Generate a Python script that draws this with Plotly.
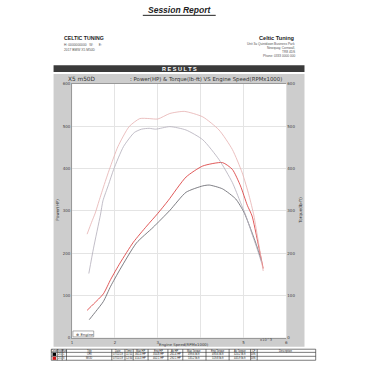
import plotly.graph_objects as go

# ---------------- data ----------------
rpm_tq_mod = [1.35, 1.45, 1.54, 1.63, 1.75, 1.87, 2.07, 2.33, 2.58, 2.8, 3.0, 3.28, 3.62, 4.05, 4.43, 4.74, 4.97, 5.13, 5.24, 5.35, 5.46]
tq_mod = [245, 272, 295, 324, 362, 398, 452, 499, 518, 518, 517, 530, 535, 522, 491, 445, 390, 336, 290, 225, 158]

rpm_tq_ori = [1.39, 1.5, 1.66, 1.72, 1.85, 1.97, 2.2, 2.45, 2.62, 2.8, 2.95, 3.28, 3.66, 4.05, 4.43, 4.74, 4.93, 5.05, 5.2, 5.32, 5.42]
tq_ori = [152, 212, 290, 324, 362, 398, 452, 485, 493, 495, 493, 499, 491, 468, 421, 367, 320, 290, 245, 210, 178]

rpm_hp_mod = [1.35, 1.5, 1.73, 1.9, 2.12, 2.43, 2.74, 3.0, 3.24, 3.66, 4.05, 4.51, 4.74, 4.93, 5.09, 5.2, 5.33, 5.46]
hp_mod = [65, 80, 104, 138, 177, 226, 264, 294, 324, 380, 406, 414, 398, 359, 313, 288, 228, 164]

rpm_hp_ori = [1.40, 1.55, 1.73, 1.9, 2.12, 2.5, 2.89, 3.28, 3.66, 4.05, 4.2, 4.51, 4.82, 5.01, 5.15, 5.3, 5.42]
hp_ori = [43, 62, 86, 122, 162, 224, 261, 301, 344, 359, 361, 352, 328, 297, 262, 220, 182]

x_ticks = [1, 2, 3, 4, 5, 6]
x_ticktext = ["1", "2", "3", "", "5", "6"]
y_ticks = [0, 100, 200, 300, 400, 500, 600]

table_header = ["Color", "Test", "Run", "Title", "Date", "Time", "Max HP", "Eng HP", "Av HP",
                "Max Torque", "Eng Torque", "Av Torque", "CF", "Description"]
table_row1 = ["", "2/1", "1", "ORI", "07/11/19", "11:51", "361.0 HP", "350.8 HP", "261.4 HP",
              "499.6 lb-ft", "493.6 lb-ft", "420.2 lb-ft", "DIN", ""]
table_row2 = ["", "2/1", "8", "MOD", "07/11/19", "12:34", "414.3 HP", "402.1 HP", "292.1 HP",
              "535.2 lb-ft", "519.8 lb-ft", "445.9 lb-ft", "DIN", ""]
row_colors = ["#000000", "#d01818"]

# ---------------- geometry helpers (pixels on a 366 page) ----------------
W = H = 366
def px(x): return x / W
def py(y): return 1 - y / H

L, R, T, B = 71.7, 287.7, 82.0, 339.5

fig = go.Figure()
fig.add_trace(go.Scatter(x=rpm_tq_mod, y=tq_mod, mode="lines", yaxis="y2",
                         line=dict(color="#e6b0b0", width=0.8, shape="spline", smoothing=0.6), name="Torque MOD"))
fig.add_trace(go.Scatter(x=rpm_tq_ori, y=tq_ori, mode="lines", yaxis="y2",
                         line=dict(color="#b3adba", width=0.8, shape="spline", smoothing=0.6), name="Torque ORI"))
fig.add_trace(go.Scatter(x=rpm_hp_ori, y=hp_ori, mode="lines",
                         line=dict(color="#5e5e66", width=0.8, shape="spline", smoothing=0.6), name="Power ORI"))
fig.add_trace(go.Scatter(x=rpm_hp_mod, y=hp_mod, mode="lines",
                         line=dict(color="#d83030", width=0.8, shape="spline", smoothing=0.6), name="Power MOD"))

tickfont = dict(size=4, color="#444", family="DejaVu Sans")
fig.update_layout(
    width=W, height=H, margin=dict(l=0, r=0, t=0, b=0),
    paper_bgcolor="white", plot_bgcolor="white", showlegend=False,
    xaxis=dict(domain=[px(L), px(R)], range=[1, 6], tickvals=x_ticks, ticktext=x_ticktext,
               showgrid=True, gridcolor="#e4e4e4", gridwidth=1, zeroline=False,
               tickfont=tickfont, ticks="", showline=True, linecolor="#999", linewidth=1, mirror=True),
    yaxis=dict(domain=[py(B), py(T)], range=[0, 600], tickvals=y_ticks,
               showgrid=True, gridcolor="#e4e4e4", gridwidth=1, zeroline=False,
               tickfont=tickfont, ticks="", showline=True, linecolor="#999", linewidth=1),
    yaxis2=dict(overlaying="y", side="right", range=[0, 600], tickvals=y_ticks,
                showgrid=False, zeroline=False, tickfont=tickfont, ticks=""),
)

shapes = []
shapes.append(dict(type="rect", xref="paper", yref="paper", x0=px(53), x1=px(306), y0=py(348.5), y1=py(72),
                   fillcolor="#cdcdcd", line=dict(width=0), layer="below"))
shapes.append(dict(type="rect", xref="paper", yref="paper", x0=px(L), x1=px(R), y0=py(B), y1=py(T),
                   fillcolor="white", line=dict(width=0), layer="below"))
shapes.append(dict(type="rect", xref="paper", yref="paper", x0=px(53), x1=px(306), y0=py(70), y1=py(63),
                   fillcolor="#3a3a3a", line=dict(width=0)))
shapes.append(dict(type="line", xref="paper", yref="paper", x0=px(143), x1=px(216.5), y0=py(12.5), y1=py(12.5),
                   line=dict(color="#222", width=1)))
shapes.append(dict(type="rect", xref="paper", yref="paper", x0=px(72.5), x1=px(93.5), y0=py(338.5), y1=py(332.5),
                   fillcolor="white", line=dict(color="#777", width=0.6)))

annotations = []
def txt(x, y, s, size, anchor="left", bold=False, italic=False, color="#222", family="Liberation Sans", angle=0):
    t = s
    if bold:
        t = "<b>" + t + "</b>"
    if italic:
        t = "<i>" + t + "</i>"
    annotations.append(dict(x=px(x), y=py(y), xref="paper", yref="paper", text=t, showarrow=False,
                            xanchor=anchor, yanchor="middle", textangle=angle,
                            font=dict(size=size, color=color, family=family)))

txt(180, 7.5, "Session Report", 8.5, anchor="center", bold=True, italic=True)
txt(62, 35.5, "CELTIC TUNING", 5.2, bold=True)
txt(62, 43, "H: 0000000000   W:      E:", 3.3, color="#555")
txt(62, 47.5, "2017 BMW X5 M50D", 3.3, color="#555")
txt(298, 35.5, "Celtic Tuning", 5.6, anchor="right", bold=True)
txt(298, 41.5, "Unit 3a Quintdown Business Park", 3.2, anchor="right", color="#555")
txt(298, 45.5, "Newquay, Cornwall,", 3.2, anchor="right", color="#555")
txt(298, 49.5, "TR8 4DS", 3.2, anchor="right", color="#555")
txt(298, 54, "Phone: 0333 0000 000", 3.2, anchor="right", color="#555")
txt(180, 66.6, "R E S U L T S", 5.5, anchor="center", bold=True, color="white")
txt(66, 77.5, "X5 m50D", 5.8, family="DejaVu Sans", color="#333")
txt(207, 77.5, ": Power(HP) &amp; Torque(lb-ft) VS Engine Speed(RPMx1000)", 5.4, anchor="center",
    family="DejaVu Sans", color="#333")
txt(185, 346.4, "Engine Speed(RPMx1000)", 3.8, anchor="center", family="DejaVu Sans", color="#333")
txt(267, 341.8, "x10^3", 3.6, anchor="center", family="DejaVu Sans", color="#444")
txt(57, 210, "Power(HP)", 4.2, anchor="center", family="DejaVu Sans", color="#333", angle=-90)
txt(302, 210, "Torque(lb-ft)", 4.2, anchor="center", family="DejaVu Sans", color="#333", angle=-90)
txt(74, 335.6, "⊕ Engine", 3.8, family="DejaVu Sans", color="#333")

col_edges = [50.7, 56.7, 61.7, 66, 111.7, 125, 133.3, 148.3, 168.3, 183.3, 206.7, 230, 251.7, 258.3, 317.3]
row_edges = [351, 354.2, 358.2, 362.2]
shapes.append(dict(type="rect", xref="paper", yref="paper", x0=px(col_edges[0]), x1=px(col_edges[-1]),
                   y0=py(row_edges[-1]), y1=py(row_edges[0]), line=dict(color="#222", width=0.6)))
for yv in row_edges[1:-1]:
    shapes.append(dict(type="line", xref="paper", yref="paper", x0=px(col_edges[0]), x1=px(col_edges[-1]),
                       y0=py(yv), y1=py(yv), line=dict(color="#222", width=0.6)))
for xv in col_edges[1:-1]:
    shapes.append(dict(type="line", xref="paper", yref="paper", x0=px(xv), x1=px(xv),
                       y0=py(row_edges[-1]), y1=py(row_edges[0]), line=dict(color="#222", width=0.6)))
for ri, c in enumerate(row_colors):
    shapes.append(dict(type="rect", xref="paper", yref="paper", x0=px(52), x1=px(55.5),
                       y0=py(row_edges[ri + 2] - 0.4), y1=py(row_edges[ri + 1] + 0.4), fillcolor=c, line=dict(width=0)))
for ri, row in enumerate([table_header, table_row1, table_row2]):
    yc = (row_edges[ri] + row_edges[ri + 1]) / 2
    for ci, s in enumerate(row):
        if s:
            xc = (col_edges[ci] + col_edges[ci + 1]) / 2
            txt(xc, yc, s, 2.6, anchor="center", color="#222")

fig.update_layout(shapes=shapes, annotations=annotations)
fig.write_html("out.html", config={"displayModeBar": False},
               post_script="document.body.style.margin='0px';document.body.style.overflow='hidden';")
